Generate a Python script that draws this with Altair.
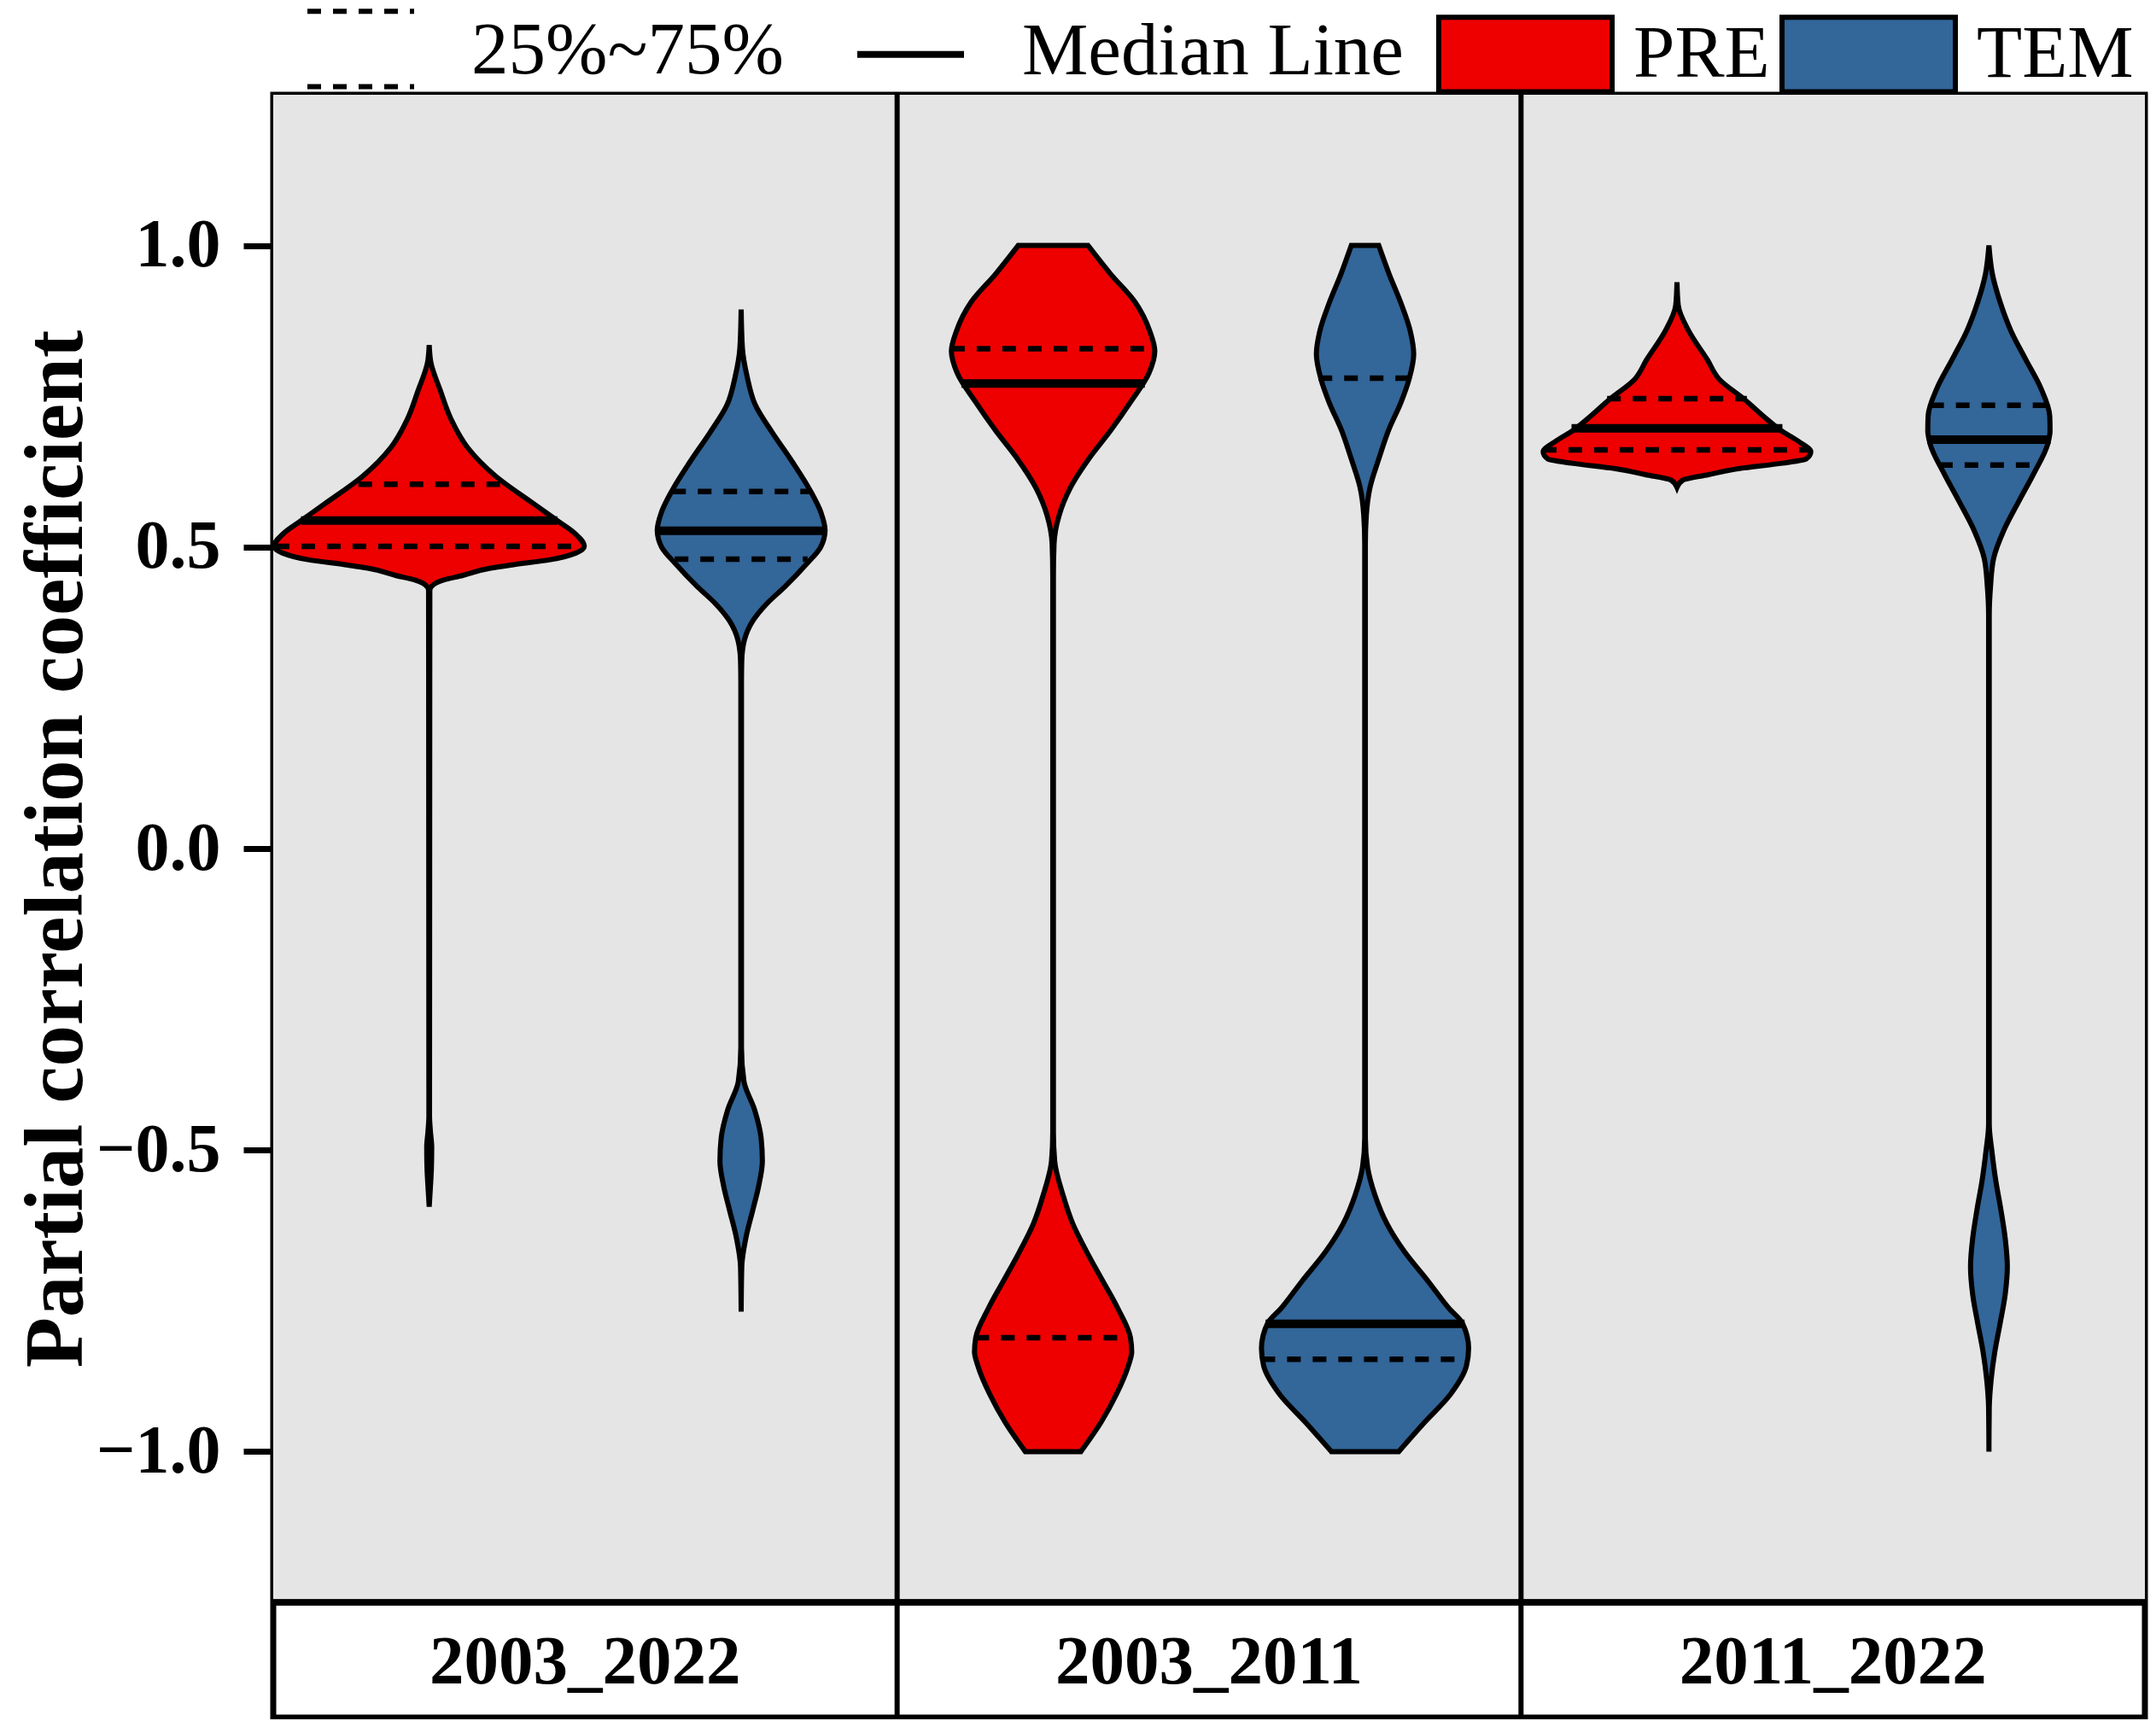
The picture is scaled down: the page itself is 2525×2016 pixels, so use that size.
import altair as alt
import pandas as pd

FONT = "Liberation Serif"

PERIODS = ["2003_2022", "2003_2011", "2011_2022"]
VARIABLES = ["PRE", "TEM"]
COLORS = ["#EE0000", "#336699"]
STATS = ["25%~75%", "Median Line"]
Y_TICKS = [-1.0, -0.5, 0.0, 0.5, 1.0]
PLOT_LIMITS = [-1.25, 1.25]
STRIP_BOTTOM = -1.4411

# violin outlines: value (y) and half-width (w, panel width = 2)
PRE_03_22_Y = [0.835, 0.807, 0.759, 0.712, 0.665, 0.618, 0.571, 0.544, 0.524, 0.501, 0.490, 0.479,
               0.470, 0.465, 0.453, 0.445, 0.437, 0.428, -0.443, -0.470, -0.495, -0.530, -0.560, -0.594]
PRE_03_22_W = [0.0, 0.005, 0.036, 0.070, 0.123, 0.212, 0.337, 0.410, 0.464, 0.497, 0.470, 0.388,
               0.260, 0.197, 0.108, 0.044, 0.012, 0.002, 0.001, 0.004, 0.008, 0.007, 0.004, 0.0]

TEM_03_22_Y = [0.894, 0.830, 0.783, 0.736, 0.689, 0.642, 0.594, 0.557, 0.528, 0.500, 0.472, 0.434,
               0.406, 0.378, 0.345, 0.312, 0.274, -0.330, -0.386, -0.433, -0.480, -0.518, -0.560,
               -0.598, -0.646, -0.693, -0.768]
TEM_03_22_W = [0.0, 0.004, 0.019, 0.045, 0.101, 0.163, 0.221, 0.256, 0.269, 0.255, 0.210, 0.140,
               0.082, 0.038, 0.010, 0.002, 0.001, 0.001, 0.009, 0.043, 0.064, 0.068, 0.056,
               0.038, 0.015, 0.002, 0.0]

PRE_03_11_Y = [1.0, 0.953, 0.906, 0.858, 0.825, 0.788, 0.741, 0.693, 0.646, 0.599, 0.552, 0.505,
               0.450, -0.471, -0.518, -0.575, -0.622, -0.669, -0.716, -0.763, -0.811, -0.835,
               -0.858, -0.905, -0.952, -1.0]
PRE_03_11_W = [0.112, 0.184, 0.263, 0.310, 0.326, 0.307, 0.249, 0.184, 0.114, 0.056, 0.019, 0.003,
               0.001, 0.001, 0.005, 0.032, 0.063, 0.108, 0.158, 0.208, 0.248, 0.252,
               0.241, 0.203, 0.153, 0.089]

TEM_03_11_Y = [1.0, 0.953, 0.906, 0.858, 0.820, 0.778, 0.741, 0.693, 0.646, 0.599, 0.552, 0.505,
               -0.480, -0.528, -0.575, -0.622, -0.669, -0.716, -0.763, -0.787, -0.829, -0.858,
               -0.905, -0.952, -1.0]
TEM_03_11_W = [0.044, 0.077, 0.114, 0.145, 0.156, 0.141, 0.116, 0.075, 0.044, 0.016, 0.004, 0.001,
               0.001, 0.008, 0.032, 0.070, 0.127, 0.200, 0.270, 0.312, 0.332, 0.325,
               0.274, 0.190, 0.108]

PRE_11_22_Y = [0.939, 0.901, 0.858, 0.811, 0.778, 0.745, 0.717, 0.693, 0.675, 0.658, 0.646, 0.639,
               0.630, 0.620, 0.611, 0.599]
PRE_11_22_W = [0.0, 0.004, 0.038, 0.097, 0.136, 0.216, 0.277, 0.334, 0.390, 0.429, 0.414, 0.337,
               0.197, 0.101, 0.019, 0.0]

TEM_11_22_Y = [1.0, 0.953, 0.906, 0.858, 0.811, 0.764, 0.717, 0.693, 0.670, 0.623, 0.576, 0.528,
               0.481, 0.434, 0.387, -0.457, -0.504, -0.551, -0.598, -0.646, -0.693, -0.740,
               -0.787, -0.834, -0.881, -0.928, -1.0]
TEM_11_22_W = [0.0, 0.011, 0.036, 0.071, 0.118, 0.166, 0.195, 0.196, 0.188, 0.145, 0.096, 0.048,
               0.015, 0.005, 0.001, 0.001, 0.010, 0.022, 0.038, 0.052, 0.059, 0.052,
               0.036, 0.019, 0.007, 0.001, 0.0]

VIOLINS = {
    ("2003_2022", "PRE"): (PRE_03_22_Y, PRE_03_22_W),
    ("2003_2022", "TEM"): (TEM_03_22_Y, TEM_03_22_W),
    ("2003_2011", "PRE"): (PRE_03_11_Y, PRE_03_11_W),
    ("2003_2011", "TEM"): (TEM_03_11_Y, TEM_03_11_W),
    ("2011_2022", "PRE"): (PRE_11_22_Y, PRE_11_22_W),
    ("2011_2022", "TEM"): (TEM_11_22_Y, TEM_11_22_W),
}

# quartile / median lines
Q_PERIOD = ["2003_2022"] * 6 + ["2003_2011"] * 6 + ["2011_2022"] * 6
Q_VAR = ["PRE", "PRE", "PRE", "TEM", "TEM", "TEM"] * 3
Q_STAT = ["25%~75%", "Median Line", "25%~75%"] * 6
Q_Y = [0.604, 0.544, 0.501, 0.592, 0.527, 0.480,
       0.829, 0.771, -0.811, 0.780, -0.788, -0.847,
       0.746, 0.697, 0.661, 0.735, 0.678, 0.636]
Q_W = [0.227, 0.411, 0.492, 0.221, 0.274, 0.213,
       0.327, 0.294, 0.249, 0.149, 0.319, 0.332,
       0.224, 0.338, 0.430, 0.188, 0.198, 0.160]


def centre(period, var):
    return 2 * PERIODS.index(period) + 0.5 + VARIABLES.index(var)


rows = []
for (period, var), (ys, ws) in VIOLINS.items():
    c = centre(period, var)
    for y, w in zip(ys, ws):
        rows.append({"period": period, "var": var, "key": period + "-" + var,
                     "y": y, "xl": c - w, "xr": c + w})
violin_df = pd.DataFrame(rows).sort_values(["key", "y"]).reset_index(drop=True)

qrows = []
for p, v, s, y, w in zip(Q_PERIOD, Q_VAR, Q_STAT, Q_Y, Q_W):
    c = centre(p, v)
    qrows.append({"period": p, "var": v, "stat": s, "y": y, "xl": c - w, "xr": c + w})
quant_df = pd.DataFrame(qrows)

strip_df = pd.DataFrame({"period": PERIODS, "x": [2 * i + 1 for i in range(len(PERIODS))]})
sep_df = pd.DataFrame({"x": [2 * i for i in range(1, len(PERIODS))]})

xscale = alt.Scale(domain=[0, 2 * len(PERIODS)], nice=False, zero=False)
yscale = alt.Scale(domain=[STRIP_BOTTOM, PLOT_LIMITS[1]], nice=False, zero=False)

yaxis = alt.Axis(
    values=Y_TICKS, format=".1f", title="Partial correlation coefficient",
    domain=False, grid=False, ticks=True, tickSize=35, tickWidth=7, tickColor="black",
    labelFont=FONT, labelFontSize=80, labelFontWeight="bold", labelColor="black",
    labelPadding=27, labelOverlap=False, labelFlush=False,
    titleFont=FONT, titleFontSize=97, titleFontWeight="bold", titleColor="black",
    titleAngle=270, titleAlign="center", titleBaseline="alphabetic",
    titleX=-225, titleY=883, titleLimit=0,
)

LEGEND_TEXT = dict(labelFont=FONT, labelFontSize=87, labelColor="black", labelLimit=0)

background = alt.Chart(strip_df).mark_rect(fill="#E5E5E5").encode(
    x=alt.X(datum=0, scale=xscale, axis=None),
    x2=alt.X2(datum=2 * len(PERIODS)),
    y=alt.Y(datum=PLOT_LIMITS[0], scale=yscale, axis=yaxis),
    y2=alt.Y2(datum=PLOT_LIMITS[1]),
)

fill_legend = alt.Legend(
    title=None, orient="none", legendX=1362, legendY=-152, direction="horizontal",
    symbolType="M-1,-0.43H1V0.43H-1Z", symbolSize=41209, symbolStrokeColor="black",
    symbolStrokeWidth=6, symbolOpacity=1, labelOffset=22, columnPadding=2, offset=0,
    **LEGEND_TEXT,
)

violins = alt.Chart(violin_df).mark_area(
    orient="horizontal", interpolate="monotone", stroke="black", strokeWidth=6,
    opacity=1, fillOpacity=1,
).encode(
    y=alt.Y("y:Q", scale=yscale, axis=yaxis),
    x=alt.X("xl:Q", scale=xscale, axis=None),
    x2="xr:Q",
    fill=alt.Fill("var:N", scale=alt.Scale(domain=VARIABLES, range=COLORS), legend=fill_legend),
    detail="key:N",
)

quartile_legend = alt.Legend(
    title=None, orient="none", legendX=37, legendY=-117, direction="horizontal",
    symbolType="M-1,-0.74H1M-1,0.67H1", symbolSize=15625, symbolStrokeColor="black",
    symbolStrokeWidth=6, labelOffset=64, offset=0, **LEGEND_TEXT,
)

median_legend = alt.Legend(
    title=None, orient="none", legendX=680, legendY=-117, direction="horizontal",
    symbolType="M-1,0.05H1", symbolSize=15625, symbolStrokeWidth=8,
    labelOffset=64, offset=0, **LEGEND_TEXT,
)

quartiles = alt.Chart(quant_df).transform_filter(
    alt.datum.stat == STATS[0]
).mark_rule(color="black", strokeWidth=6.5).encode(
    y=alt.Y("y:Q", scale=yscale, axis=yaxis),
    x=alt.X("xl:Q", scale=xscale, axis=None),
    x2="xr:Q",
    strokeDash=alt.StrokeDash("stat:N", scale=alt.Scale(domain=[STATS[0]], range=[[16, 14]]),
                              legend=quartile_legend),
)

medians = alt.Chart(quant_df).transform_filter(
    alt.datum.stat == STATS[1]
).mark_rule(strokeWidth=10).encode(
    y=alt.Y("y:Q", scale=yscale, axis=yaxis),
    x=alt.X("xl:Q", scale=xscale, axis=None),
    x2="xr:Q",
    stroke=alt.Stroke("stat:N", scale=alt.Scale(domain=[STATS[1]], range=["black"]),
                      legend=median_legend),
)

strip_line = alt.Chart(strip_df).mark_rule(color="black", strokeWidth=7).encode(
    x=alt.X(datum=0, scale=xscale, axis=None),
    x2=alt.X2(datum=2 * len(PERIODS)),
    y=alt.Y(datum=PLOT_LIMITS[0], scale=yscale, axis=yaxis),
)

separators = alt.Chart(sep_df).mark_rule(color="black", strokeWidth=6).encode(
    x=alt.X("x:Q", scale=xscale, axis=None),
    y=alt.Y(datum=STRIP_BOTTOM, scale=yscale, axis=yaxis),
    y2=alt.Y2(datum=PLOT_LIMITS[1]),
)

strip_text = alt.Chart(strip_df).mark_text(
    font=FONT, fontSize=81, fontWeight="bold", color="black", baseline="middle", dy=3,
).encode(
    x=alt.X("x:Q", scale=xscale, axis=None),
    y=alt.Y(datum=(PLOT_LIMITS[0] + STRIP_BOTTOM) / 2, scale=yscale, axis=yaxis),
    text="period:N",
)

chart = alt.layer(
    background, violins, quartiles, medians, strip_line, separators, strip_text
).properties(
    width=2192, height=1901,
    autosize=alt.AutoSizeParams(type="none"),
    padding={"left": 312, "top": 103, "right": 5, "bottom": 2},
).configure_view(fill="white", stroke="black", strokeWidth=7)

chart.save("out.html", embed_options={"renderer": "svg", "actions": False})
